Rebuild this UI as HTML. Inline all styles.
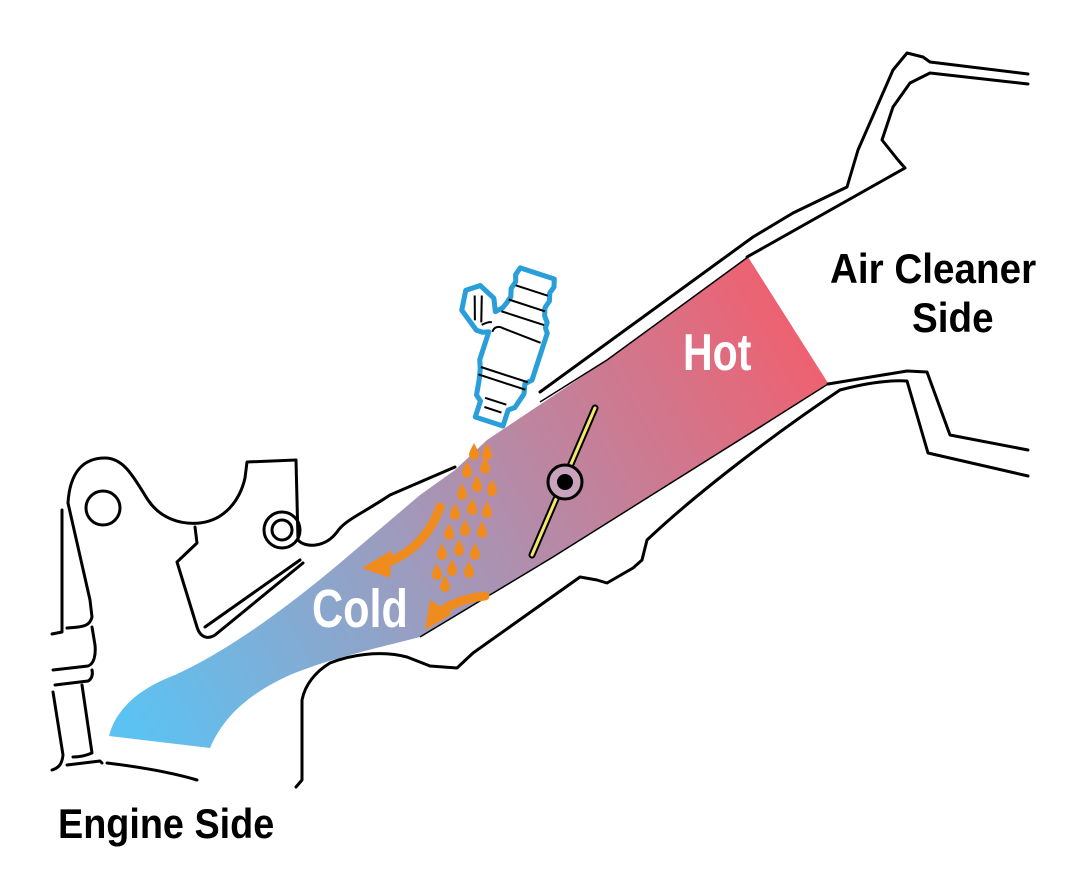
<!DOCTYPE html>
<html><head><meta charset="utf-8"><style>
html,body{margin:0;padding:0;background:#fff;}
svg{display:block}
text{font-family:"Liberation Sans",sans-serif;font-weight:bold}
</style></head><body>
<svg width="1080" height="893" viewBox="0 0 1080 893" xmlns="http://www.w3.org/2000/svg">
<defs>
<linearGradient id="g" gradientUnits="userSpaceOnUse" x1="130" y1="720" x2="810" y2="330">
<stop offset="0" stop-color="#5cc2f2"/>
<stop offset="0.45" stop-color="#a497b8"/>
<stop offset="1" stop-color="#f0606f"/>
</linearGradient>
</defs>
<!-- channel gradient -->
<path d="M109,736 C115,712 135,690 175,675 C230,650 290,605 340,563 L420,495 L455,470 L487,440 L607,360 L748,257 L828,383 C740,440 660,490 553,557 L420,637 C390,645 330,658 290,675 C245,695 222,720 210,748 Z" fill="url(#g)"/>
<g fill="none" stroke="#000" stroke-width="1.5">
<path d="M828,384 C740,440 660,490 553,557 L420,637"/>
<path d="M748,257 L607,360 L540,402"/>
</g>
<g fill="none" stroke="#000" stroke-width="3" stroke-linecap="round" stroke-linejoin="round">
<!-- upper wall -->
<path d="M747,257 L905,168 L898,160 L882,140 L893,107 L910,83 L930,73 L1028,84"/>
<path d="M540,392 L753,237 L793,213 L847,187 L858,150 L893,70 L907,53 L923,57 L930,62 L1028,74"/>
<!-- lower wall -->
<path d="M828,384 L907,371 L927,372 L950,435 L1028,450"/>
<path d="M840,390 C870,382 890,380 907,381 L928,453 L1028,476"/>
<path d="M840,390 C780,430 700,490 647,540 L642,560 L633,568 L607,583 L597,580 L580,577 L473,653 L457,668 L430,666 L407,657 C380,650 350,655 330,663 C315,672 305,685 302,700 L302,780 L296,787"/>
<!-- engine block top outline -->
<path d="M68,503 C70,470 85,458 105,458 C125,458 135,480 148,500 C160,518 180,525 200,523 C225,520 240,500 245,478 L247,462 L296,460 L298,540 C305,548 325,548 337,532 C345,520 360,515 390,495 L455,467"/>
<circle cx="103" cy="508" r="17"/>
<circle cx="282" cy="530" r="18"/>
<circle cx="282" cy="530" r="10"/>
<!-- inner box -->
<path d="M195,527 L197,543 L177,562 L197,627 C200,637 207,640 215,635 L303,563"/>
<path d="M205,627 L300,560"/>
<!-- left lines -->
<path d="M62,510 L62,632 L52,634"/>
<path d="M68,503 L90,600 L92,617 C90,625 86,627 67,628"/>
<path d="M53,670 L88,666 C94,664 96,655 95,645 L92,627"/>
<path d="M55,685 L88,681 C92,679 93,674 92,670"/>
<path d="M53,692 L63,755 C62,765 58,768 52,770"/>
<path d="M82,685 L92,753 C85,756 78,757 73,757"/>
<path d="M67,765 L100,761 L102,763"/>
<path d="M107,763 C140,767 170,772 197,780"/>
</g>
<!-- throttle valve -->
<line x1="595" y1="408" x2="532" y2="555" stroke="#000" stroke-width="7" stroke-linecap="round"/>
<line x1="595" y1="408" x2="532" y2="555" stroke="#f4e86a" stroke-width="3" stroke-linecap="round"/>
<circle cx="565" cy="482" r="17" fill="#c9a2bd" stroke="#000" stroke-width="3"/>
<circle cx="565" cy="482" r="8" fill="#000"/>
<!-- injector -->
<g transform="translate(513,348) rotate(18) scale(1.12)" stroke-linejoin="round">
<path d="M-16,-70 L16,-70 L18,-63 L16,-57 L18,-50 L16,-43 L18,-36 L22,-31 L22,-26 L25,-22 L25,22 L20,27 L22,36 L18,50 L13,54 L13,69 L-13,69 L-13,54 L-18,50 L-20,36 L-22,27 L-25,19 L-25,-7 L-30,-5 L-36,-5 L-54,-18 L-56,-36 L-45,-44 L-30,-37 L-25,-26 L-20,-31 L-18,-36 L-16,-43 L-18,-50 L-16,-57 L-18,-63 Z" fill="#fff" stroke="#2a9ed8" stroke-width="4.5"/>
<g stroke="#000" stroke-width="1.8" fill="none">
<line x1="-15" y1="-54" x2="15" y2="-54"/>
<line x1="-17" y1="-40" x2="17" y2="-40"/>
<line x1="-20" y1="-28" x2="20" y2="-28"/>
<path d="M-22,-8 C-22,-13 -18,-15 -14,-14 L22,-12"/>
<line x1="-22" y1="25" x2="22" y2="25"/>
<line x1="-22" y1="32" x2="22" y2="32"/>
<line x1="-10" y1="50" x2="10" y2="50"/>
<line x1="-8" y1="58" x2="8" y2="58"/>
<line x1="-47" y1="-34" x2="-40" y2="-13"/>
<line x1="-41" y1="-36" x2="-34" y2="-13"/>
<path d="M-33,-11 C-30,-14 -27,-16 -25,-16"/>
</g>
</g>
<!-- droplets -->
<g fill="#f08c1e">
<path id="d" d="M0,-9 C3,-3 5,0 5,3 A5,5 0 0 1 -5,3 C-5,0 -3,-3 0,-9Z" transform="translate(487,452)"/>
<use href="#d" x="-13" y="0"/><use href="#d" x="-20" y="18"/><use href="#d" x="-2" y="14"/>
<use href="#d" x="-10" y="32"/><use href="#d" x="-25" y="40"/><use href="#d" x="5" y="36"/>
<use href="#d" x="-15" y="55"/><use href="#d" x="-32" y="60"/><use href="#d" x="0" y="58"/>
<use href="#d" x="-22" y="76"/><use href="#d" x="-38" y="80"/><use href="#d" x="-5" y="78"/>
<use href="#d" x="-28" y="96"/><use href="#d" x="-45" y="100"/><use href="#d" x="-12" y="100"/>
<use href="#d" x="-35" y="116"/><use href="#d" x="-50" y="120"/><use href="#d" x="-18" y="118"/>
<use href="#d" x="-42" y="132"/>
</g>
<!-- arrows -->
<path d="M440,507 C430,535 410,555 385,563" fill="none" stroke="#f08c1e" stroke-width="9" stroke-linecap="round"/>
<path d="M362,568 L392,550 L390,578 Z" fill="#f08c1e"/>
<path d="M485,596 C465,598 448,605 438,614" fill="none" stroke="#f08c1e" stroke-width="9" stroke-linecap="round"/>
<path d="M425,630 L430,600 L452,614 Z" fill="#f08c1e"/>
<!-- labels -->
<text x="683" y="370" font-size="52" fill="#fff" transform="translate(683,370) scale(0.79,1) translate(-683,-370)">Hot</text>
<text x="312" y="627" font-size="54" fill="#fff" transform="translate(312,627) scale(0.8,1) translate(-312,-627)">Cold</text>
<text x="830" y="283" font-size="42" fill="#000" transform="translate(830,283) scale(0.92,1) translate(-830,-283)">Air Cleaner</text>
<text x="912" y="332" font-size="42" fill="#000" transform="translate(912,332) scale(0.92,1) translate(-912,-332)">Side</text>
<text x="58" y="838" font-size="42" fill="#000" transform="translate(58,838) scale(0.9,1) translate(-58,-838)">Engine Side</text>
</svg>
</body></html>
